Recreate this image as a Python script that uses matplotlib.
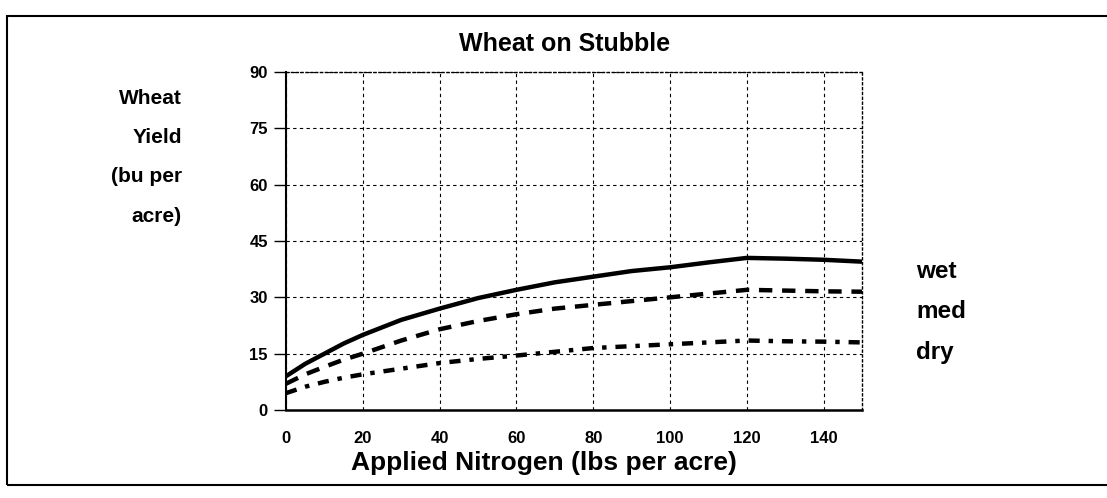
import matplotlib.pyplot as plt
from matplotlib.patches import Rectangle

# curves
nitrogen = [0, 5, 10, 15, 20, 30, 40, 50, 60, 70, 80, 90, 100, 110, 120, 130, 140, 150]
wet = [9, 12.3, 15, 17.7, 20, 24, 27, 29.8, 32, 34, 35.5, 37, 38, 39.3, 40.5, 40.3, 40, 39.5]
med = [7, 9.5, 11.5, 13.4, 15, 18.5, 21.5, 23.7, 25.5, 27, 28, 29, 30, 31, 32, 31.8, 31.6, 31.5]
dry = [4.5, 6.2, 7.5, 8.6, 9.5, 11, 12.5, 13.6, 14.5, 15.5, 16.5, 17, 17.5, 18, 18.5, 18.3, 18.2, 18]
y_ticks = [0, 15, 30, 45, 60, 75, 90]
x_ticks = [0, 20, 40, 60, 80, 100, 120, 140]
series_names = ['wet', 'med', 'dry']

plt.rcParams['font.family'] = ['Liberation Sans', 'DejaVu Sans']
plt.rcParams['font.weight'] = 'bold'

fig = plt.figure(figsize=(11.07, 4.98), dpi=100)
ax = fig.add_axes([0.2584, 0.1767, 0.5203, 0.6787])

# curves
ax.plot(nitrogen, wet, color='black', lw=3.2, solid_capstyle='butt')
ax.plot(nitrogen, med, color='black', lw=3.2, dashes=(3, 2.2))
ax.plot(nitrogen, dry, color='black', lw=3.2, dashes=(2.5, 2, 1, 2))

ax.set_xlim(0, 150)
ax.set_ylim(0, 90)
ax.set_xticks(x_ticks)
ax.set_yticks(y_ticks)
ax.tick_params(axis='x', length=0, pad=15, labelsize=12)
ax.tick_params(axis='y', length=9, width=1, pad=4, labelsize=12)

# grid
ax.grid(True, color='black', linestyle=(0, (3, 3)), linewidth=0.8)
ax.set_axisbelow(True)
ax.spines['left'].set_linewidth(1.5)
ax.spines['bottom'].set_linewidth(1.8)
for side in ['top', 'right']:
    ax.spines[side].set_linestyle((0, (1.5, 2)))
    ax.spines[side].set_linewidth(1)

ax.set_title('Wheat on Stubble', fontsize=18, fontweight='bold', pad=15, x=0.484)
ax.set_xlabel('Applied Nitrogen (lbs per acre)', fontsize=19, fontweight='bold', labelpad=4)
ax.xaxis.label.set_x(0.448)

# y label block at top left
ylab = ['Wheat', 'Yield', '(bu per', 'acre)']
for i, s in enumerate(ylab):
    fig.text(182 / 1107, 1 - (98 + i * 39.5) / 498, s, ha='right', va='center',
             fontsize=15, fontweight='bold')

# series labels on the right
for i, s in enumerate(series_names):
    fig.text(916 / 1107, 1 - (271 + i * 40.5) / 498, s, ha='left', va='center',
             fontsize=17.5, fontweight='bold')

# outer frame
fig.patches.append(Rectangle((7 / 1107, 1 - 485 / 498), 1.2, (485 - 16) / 498,
                             transform=fig.transFigure, fill=False,
                             edgecolor='black', linewidth=1.5))

fig.savefig('out.png', dpi=100)
